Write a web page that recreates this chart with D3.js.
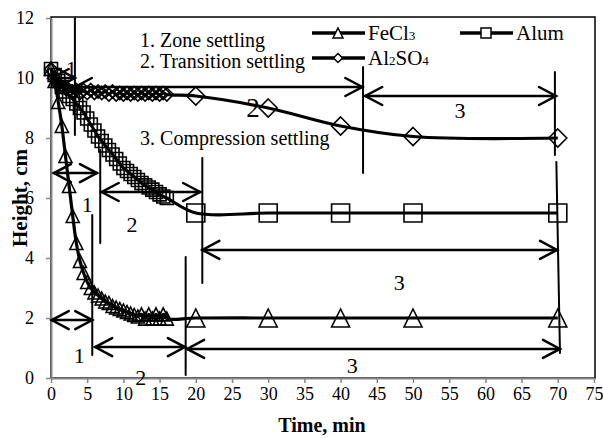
<!DOCTYPE html>
<html>
<head>
<meta charset="utf-8">
<script src="https://cdn.jsdelivr.net/npm/d3@7/dist/d3.min.js"></script>
<style>
  body { margin: 0; background: #fff; }
  text { font-family: "Liberation Serif", "Times New Roman", serif; fill: #000; }
</style>
</head>
<body>
<div id="chart"></div>
<script>
// readings every half minute during the first 16 min
var earlyTimes = [0, 0.5, 1, 1.5, 2, 2.5, 3, 3.5, 4, 4.5, 5, 5.5, 6, 6.5, 7, 7.5, 8,
  8.5, 9, 9.5, 10, 10.5, 11, 11.5, 12, 12.5, 13, 13.5, 14, 14.5, 15, 15.5, 16];
var lateTimes = [20, 30, 40, 50, 70];

var fecl3Early = [10.3, 9.9, 9.2, 8.4, 7.4, 6.4, 5.4, 4.5, 3.9, 3.5, 3.2, 3.0, 2.85,
  2.75, 2.65, 2.55, 2.5, 2.4, 2.35, 2.3, 2.25, 2.2, 2.15, 2.1, 2.05, 2.12, 1.98, 2.12,
  1.98, 2.12, 1.98, 2.12, 1.98];
var fecl3Late = [2, 2, 2, 2, 2];

var alumEarly = [10.3, 10.1, 9.9, 9.7, 9.55, 9.4, 9.3, 9.15, 9.0, 8.85, 8.65, 8.45,
  8.25, 8.05, 7.9, 7.75, 7.6, 7.45, 7.3, 7.15, 7.0, 6.9, 6.8, 6.7, 6.6, 6.5, 6.42,
  6.35, 6.28, 6.2, 6.12, 6.05, 6.0];
var alumLate = [5.5, 5.5, 5.5, 5.5, 5.5];

var al2so4Early = [10.3, 10.0, 9.8, 9.7, 9.65, 9.6, 9.55, 9.6, 9.5, 9.6, 9.5, 9.6,
  9.5, 9.55, 9.5, 9.55, 9.45, 9.55, 9.45, 9.5, 9.45, 9.5, 9.45, 9.5, 9.45, 9.5, 9.45,
  9.5, 9.45, 9.5, 9.45, 9.5, 9.45];
var al2so4Late = [9.4, 9.0, 8.4, 8.05, 8.0];

var xTicks = [0, 5, 10, 15, 20, 25, 30, 35, 40, 45, 50, 55, 60, 65, 70, 75];
var yTicks = [0, 2, 4, 6, 8, 10, 12];

// settling zone arrows [t1, t2, h], boundary lines [t1, h1, t2, h2], labels [t, h, text]
var zoneArrows = [
  [0.1, 5.7, 1.93], [6.1, 18.5, 1.03], [18.8, 70.3, 0.97],
  [0.4, 6.35, 6.83], [7.0, 20.6, 6.2], [20.9, 69.9, 4.27],
  [0.1, 3.3, 10.0], [3.3, 43.0, 9.7], [43.4, 69.75, 9.4]
];
var zoneLines = [
  [5.7, 5.43, 5.7, 0.77], [18.6, 4.03, 18.6, 0.1], [69.8, 7.2, 70.3, 0.83],
  [6.8, 7.6, 6.8, 4.5], [20.9, 7.33, 20.9, 3.17],
  [3.3, 12, 3.3, 8.1], [43.1, 10.37, 43.1, 6.83], [69.6, 10.2, 69.6, 7.43]
];
var zoneLabels = [
  [3.9, 0.77, "1"], [12.4, 0.03, "2"], [41.6, 0.43, "3"],
  [5.0, 5.8, "1"], [11.2, 5.13, "2"], [48.1, 3.2, "3"],
  [2.8, 10.33, "1"], [27.9, 9.0, "2"], [56.5, 8.93, "3"]
];
var stageNotes = ["1. Zone settling", "2. Transition settling", "3. Compression settling"];
var stageNoteH = [11.03, 10.33, 7.77];

var width = 603, height = 438;
var svg = d3.select('#chart').append('svg')
  .attr('width', width)
  .attr('height', height);

var x = d3.scaleLinear().domain([0, 75]).range([51, 594]);
var y = d3.scaleLinear().domain([0, 12]).range([378, 18]);

// plot area border (black top / right)
svg.append('rect')
  .attr('x', x(0)).attr('y', y(12) - 1)
  .attr('width', x(75) - x(0) + 1).attr('height', y(0) - y(12) + 1)
  .attr('fill', 'none').attr('stroke', '#000').attr('stroke-width', 1.5);

var xAxis = d3.axisBottom(x).tickValues(xTicks).tickSizeInner(5).tickSizeOuter(0).tickPadding(4);
var yAxis = d3.axisLeft(y).tickValues(yTicks).tickSizeInner(5).tickSizeOuter(0).tickPadding(12);

var gx = svg.append('g').attr('transform', 'translate(0,' + y(0) + ')').call(xAxis);
var gy = svg.append('g').attr('transform', 'translate(' + x(0) + ',0)').call(yAxis);
[gx, gy].forEach(function(g) {
  g.attr('font-family', null);
  g.select('.domain').attr('stroke', '#868686').attr('stroke-width', 2);
  g.selectAll('.tick line').attr('stroke', '#868686').attr('stroke-width', 1.5);
  g.selectAll('.tick text').attr('font-size', 18).attr('fill', '#000');
});

svg.append('text')
  .attr('x', 322).attr('y', 432)
  .attr('text-anchor', 'middle')
  .attr('font-size', 20).attr('font-weight', 'bold')
  .text('Time, min');

svg.append('text')
  .attr('transform', 'translate(27,198) rotate(-90)')
  .attr('text-anchor', 'middle')
  .attr('font-size', 21).attr('font-weight', 'bold')
  .text('Height, cm');

// series
function points(ts, hs) {
  return ts.map(function(t, i) { return [t, hs[i]]; });
}
var series = [
  {name: 'fecl3', early: points(earlyTimes, fecl3Early), late: points(lateTimes, fecl3Late), marker: 'triangle'},
  {name: 'alum', early: points(earlyTimes, alumEarly), late: points(lateTimes, alumLate), marker: 'square'},
  {name: 'al2so4', early: points(earlyTimes, al2so4Early), late: points(lateTimes, al2so4Late), marker: 'diamond'}
];

function markerPath(type, s) {
  var h = s / 2;
  if (type === 'triangle') return 'M0,' + (-h) + 'L' + h + ',' + h + 'L' + (-h) + ',' + h + 'Z';
  if (type === 'square') return 'M' + (-h) + ',' + (-h) + 'H' + h + 'V' + h + 'H' + (-h) + 'Z';
  return 'M0,' + (-h) + 'L' + h + ',0L0,' + h + 'L' + (-h) + ',0Z';
}

var line = d3.line()
  .x(function(d) { return x(d[0]); })
  .y(function(d) { return y(d[1]); })
  .curve(d3.curveCatmullRom.alpha(0.5));

var lines = svg.append('g');
series.forEach(function(s) {
  lines.append('path')
    .datum(s.early.concat(s.late))
    .attr('d', line)
    .attr('fill', 'none')
    .attr('stroke', '#000')
    .attr('stroke-width', 3.2);
});

var marks = svg.append('g');
series.forEach(function(s) {
  marks.selectAll('path.early-' + s.name)
    .data(s.early)
    .enter().append('path')
      .attr('transform', function(d) { return 'translate(' + x(d[0]) + ',' + y(d[1]) + ')'; })
      .attr('d', markerPath(s.marker, 13))
      .attr('fill', 'none').attr('stroke', '#000').attr('stroke-width', 1.6);
  marks.selectAll('path.late-' + s.name)
    .data(s.late)
    .enter().append('path')
      .attr('transform', function(d) { return 'translate(' + x(d[0]) + ',' + y(d[1]) + ')'; })
      .attr('d', markerPath(s.marker, 18))
      .attr('fill', 'none').attr('stroke', '#000').attr('stroke-width', 1.6);
});

// zone annotations
var ann = svg.append('g').attr('stroke', '#000').attr('stroke-width', 2.5)
  .attr('fill', 'none').attr('stroke-linecap', 'round');
zoneArrows.forEach(function(a) {
  var x1 = x(a[0]), x2 = x(a[1]), yy = y(a[2]);
  ann.append('line').attr('x1', x1).attr('x2', x2).attr('y1', yy).attr('y2', yy);
  ann.append('path').attr('d', 'M' + (x1 + 17) + ',' + (yy - 9) + 'L' + x1 + ',' + yy + 'L' + (x1 + 17) + ',' + (yy + 9));
  ann.append('path').attr('d', 'M' + (x2 - 17) + ',' + (yy - 9) + 'L' + x2 + ',' + yy + 'L' + (x2 - 17) + ',' + (yy + 9));
});
zoneLines.forEach(function(l) {
  ann.append('line')
    .attr('x1', x(l[0])).attr('y1', y(l[1]))
    .attr('x2', x(l[2])).attr('y2', y(l[3]))
    .attr('stroke-width', 2);
});
svg.append('g').selectAll('text')
  .data(zoneLabels)
  .enter().append('text')
    .attr('x', function(d) { return x(d[0]); })
    .attr('y', function(d) { return y(d[1]); })
    .attr('dy', '0.35em')
    .attr('text-anchor', 'middle')
    .attr('font-size', function(d, i) { return i === 7 ? 27 : 22; })
    .text(function(d) { return d[2]; });

svg.append('g').selectAll('text')
  .data(stageNotes)
  .enter().append('text')
    .attr('x', x(12.3))
    .attr('y', function(d, i) { return y(stageNoteH[i]); })
    .attr('font-size', 20)
    .text(function(d) { return d; });

// legend
var legend = svg.append('g');
var legendItems = [
  {marker: 'triangle', x: 312, y: 33, label: ['FeCl', '3', '']},
  {marker: 'square', x: 460, y: 33, label: ['Alum', '', '']},
  {marker: 'diamond', x: 312, y: 58, label: ['Al', '2', 'SO', '4']}
];
legendItems.forEach(function(it) {
  legend.append('line')
    .attr('x1', it.x).attr('x2', it.x + 53)
    .attr('y1', it.y).attr('y2', it.y)
    .attr('stroke', '#000').attr('stroke-width', 3.5);
  legend.append('path')
    .attr('transform', 'translate(' + (it.x + 26) + ',' + it.y + ')')
    .attr('d', markerPath(it.marker, it.marker === 'diamond' ? 9 : 10))
    .attr('fill', '#fff').attr('stroke', '#000').attr('stroke-width', 1.5);
  var t = legend.append('text')
    .attr('x', it.x + 56).attr('y', it.y + 7)
    .attr('font-size', 21);
  it.label.forEach(function(part, i) {
    if (!part) return;
    t.append('tspan').attr('font-size', i % 2 ? 13 : 21).text(part);
  });
});
</script>
</body>
</html>
